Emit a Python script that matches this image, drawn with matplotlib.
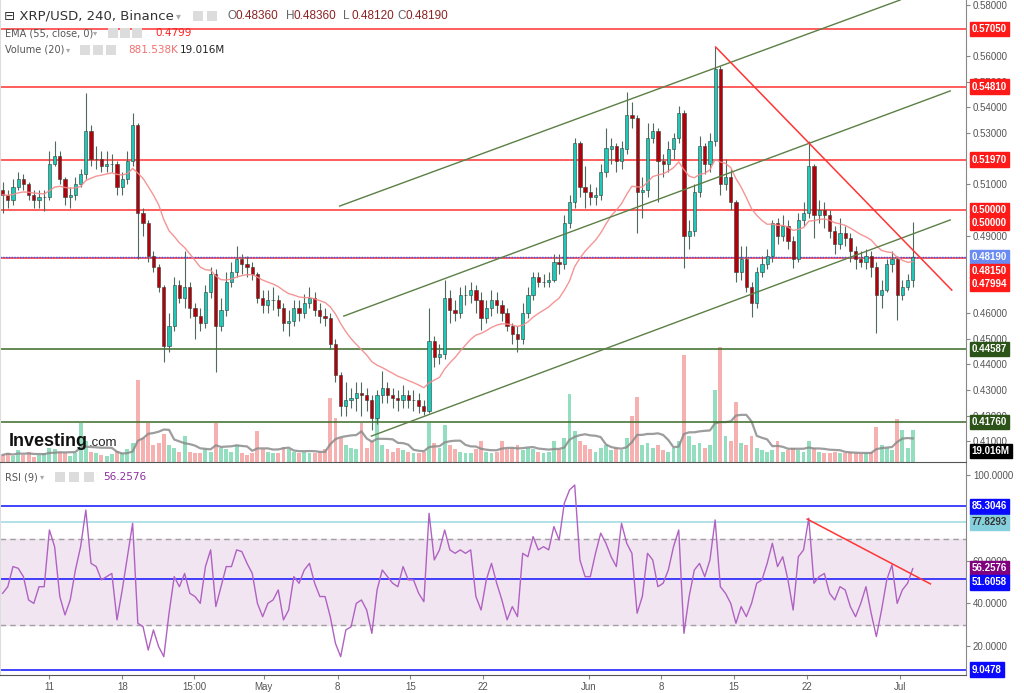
import numpy as np
import pandas as pd
import matplotlib
matplotlib.use("Agg")
import matplotlib.pyplot as plt
from matplotlib.patches import Rectangle

# =========================
# DADOS (XRP/USD, velas de 12h, x10000)
# =========================
close = [
    5060, 5040, 5090, 5120, 5100, 5060, 5040, 5050, 5050, 5180,
    5210, 5120, 5050, 5060, 5100, 5140, 5310, 5200, 5200, 5170,
    5180, 5180, 5090, 5120, 5190, 5330, 4990, 4950, 4820, 4780,
    4700, 4470, 4550, 4710, 4660, 4700, 4620, 4590, 4560, 4680,
    4750, 4550, 4610, 4720, 4760, 4810, 4790, 4780, 4750, 4660,
    4630, 4650, 4650, 4620, 4560, 4570, 4620, 4600, 4640, 4660,
    4610, 4590, 4580, 4480, 4360, 4240, 4260, 4270, 4290, 4280,
    4260, 4190, 4280, 4310, 4280, 4270, 4260, 4280, 4260, 4260,
    4240, 4220, 4490, 4430, 4440, 4660, 4610, 4600, 4670, 4670,
    4690, 4650, 4580, 4620, 4650, 4630, 4600, 4550, 4520, 4500,
    4600, 4670, 4740, 4720, 4720, 4730, 4800, 4790, 4950, 5030,
    5260, 5090, 5070, 5050, 5060, 5150, 5240, 5250, 5190, 5240,
    5370, 5360, 5070, 5080, 5280, 5310, 5190, 5180, 5240, 5280,
    5380, 4900, 4920, 5070, 5250, 5180, 5270, 5550, 5100, 5130,
    5030, 4760, 4810, 4700, 4640, 4760, 4790, 4820, 4950, 4900,
    4940, 4880, 4810, 4960, 4990, 5170, 4980, 5000, 4980, 4920,
    4870, 4910, 4890, 4840, 4810, 4800, 4820, 4780, 4670, 4690,
    4790, 4810, 4670, 4700, 4730, 4819]
first_open = 5080

high = [
    5110, 5080, 5120, 5150, 5140, 5110, 5080, 5080, 5080, 5230,
    5270, 5230, 5130, 5090, 5130, 5160, 5456, 5330, 5250, 5230,
    5230, 5220, 5190, 5150, 5230, 5380, 5340, 5010, 4960, 4840,
    4790, 4710, 4600, 4740, 4730, 4840, 4720, 4640, 4620, 4710,
    4780, 4770, 4660, 4760, 4800, 4860, 4830, 4820, 4800, 4760,
    4690, 4690, 4700, 4670, 4640, 4610, 4650, 4650, 4675, 4700,
    4680, 4640, 4620, 4600, 4500, 4370, 4330, 4310, 4330, 4330,
    4310, 4280, 4300, 4375, 4330, 4310, 4300, 4320, 4300, 4300,
    4290, 4260, 4620, 4510, 4480, 4730, 4690, 4650, 4700, 4710,
    4720, 4710, 4680, 4650, 4690, 4680, 4650, 4620, 4560, 4550,
    4640, 4700, 4760, 4760, 4750, 4760, 4830, 4830, 4980, 5060,
    5280, 5270, 5170, 5100, 5090, 5180, 5320, 5280, 5260, 5270,
    5460, 5420, 5370, 5130, 5340, 5340, 5320, 5220, 5270, 5300,
    5405, 5390, 4960, 5100, 5290, 5260, 5300, 5635, 5560, 5200,
    5160, 5040, 4860, 4860, 4720, 4780, 4820, 4850, 4960, 4970,
    4980, 4960, 4900, 4990, 5030, 5270, 5180, 5040, 5030, 5000,
    4940, 4970, 4940, 4910, 4860, 4840, 4850, 4840, 4800, 4730,
    4810, 4840, 4820, 4730, 4750, 4955]

low = [
    4990, 5010, 5020, 5080, 5080, 5040, 5010, 5010, 4995, 5040,
    5170, 5100, 5020, 5010, 5040, 5090, 5120, 5170, 5160, 5150,
    5150, 5150, 5060, 5060, 5100, 5170, 4810, 4900, 4800, 4760,
    4680, 4410, 4450, 4530, 4640, 4620, 4580, 4500, 4530, 4540,
    4660, 4370, 4530, 4590, 4700, 4740, 4750, 4740, 4730, 4640,
    4600, 4600, 4610, 4590, 4530, 4510, 4550, 4570, 4580, 4620,
    4590, 4560, 4550, 4460, 4330, 4200, 4200, 4230, 4220, 4200,
    4220, 4145, 4170, 4250, 4250, 4230, 4220, 4230, 4230, 4220,
    4210, 4205, 4210, 4390, 4400, 4420, 4560, 4570, 4580, 4630,
    4640, 4600, 4535, 4560, 4590, 4600, 4570, 4530, 4480, 4450,
    4480, 4580, 4650, 4700, 4700, 4700, 4720, 4750, 4770, 4930,
    5010, 5050, 5010, 5020, 5020, 5040, 5130, 5180, 5150, 5160,
    5220, 5320, 4910, 4970, 5050, 5260, 5030, 5130, 5150, 5200,
    5260, 4775, 4850, 4900, 5050, 5140, 5150, 5250, 5060, 5080,
    5000, 4720, 4730, 4680, 4584, 4620, 4740, 4770, 4800, 4870,
    4880, 4850, 4775, 4800, 4940, 4970, 4890, 4950, 4930, 4890,
    4830, 4850, 4860, 4800, 4770, 4780, 4770, 4740, 4522, 4620,
    4680, 4760, 4573, 4650, 4690, 4700]

volume_m = [
    15, 20, 12, 25, 15, 22, 10, 14, 18, 30,
    28, 22, 20, 12, 18, 82, 45, 22, 18, 14,
    12, 16, 24, 20, 28, 40, 173, 50, 82, 35,
    40, 60, 35, 30, 22, 55, 22, 18, 20, 28,
    22, 82, 30, 28, 22, 35, 18, 15, 18, 65,
    28, 22, 18, 20, 32, 28, 22, 18, 22, 20,
    18, 22, 28, 135, 93, 50, 35, 30, 28, 82,
    30, 45, 93, 35, 28, 22, 30, 26, 22, 18,
    20, 22, 82, 40, 30, 78, 35, 28, 22, 20,
    18, 28, 44, 22, 20, 22, 44, 28, 30, 35,
    26, 30, 28, 22, 20, 22, 44, 28, 50, 143,
    65, 45, 35, 28, 22, 30, 35, 26, 30, 26,
    50, 97, 137, 35, 40, 30, 35, 26, 22, 30,
    45, 226, 55, 35, 40, 30, 35, 152, 243, 55,
    45, 127, 40, 35, 55, 30, 26, 22, 26, 44,
    22, 26, 30, 26, 22, 44, 30, 22, 20, 18,
    22, 18, 20, 22, 18, 16, 18, 22, 74, 35,
    30, 26, 91, 68, 30, 68]

rsi = [
    44.7, 47.8, 57.2, 56.4, 52.5, 41.6, 40.0, 47.8, 47.8, 74.3,
    66.5, 43.2, 34.6, 41.6, 55.6, 66.5, 83.6, 58.7, 57.2, 51.0,
    52.5, 54.0, 32.3, 46.3, 61.8, 77.4, 30.7, 29.1, 18.2, 27.6,
    19.8, 15.1, 35.4, 52.5, 47.8, 54.0, 44.7, 43.2, 40.0, 57.2,
    65.0, 38.5, 47.8, 57.2, 57.2, 65.0, 64.2, 58.7, 54.0, 40.0,
    33.8, 40.0, 41.6, 46.3, 32.3, 36.9, 52.5, 49.4, 55.6, 58.7,
    49.4, 43.2, 43.2, 33.8, 21.3, 15.1, 27.6, 29.1, 40.0, 41.6,
    36.9, 26.0, 46.3, 55.6, 52.5, 49.4, 47.8, 57.2, 51.0, 51.0,
    44.7, 40.8, 82.1, 60.3, 65.0, 74.3, 65.0, 63.4, 65.0, 63.4,
    65.0, 43.2, 36.9, 51.0, 58.7, 49.4, 41.6, 32.3, 38.5, 33.8,
    63.4, 61.8, 71.2, 65.0, 66.5, 65.0, 75.9, 69.6, 86.8, 93.0,
    95.3, 60.3, 52.5, 52.5, 63.4, 72.8, 68.1, 61.8, 57.2, 77.4,
    68.1, 63.4, 35.4, 43.2, 63.4, 60.3, 47.8, 49.4, 55.6, 66.5,
    74.3, 26.0, 43.2, 55.6, 58.7, 52.5, 60.3, 79.0, 47.8, 44.7,
    40.0, 30.7, 38.5, 33.8, 40.0, 49.4, 51.0, 58.7, 68.1, 57.2,
    61.8, 51.0, 36.9, 61.8, 65.0, 79.8, 49.4, 52.5, 54.0, 44.7,
    41.6, 47.8, 46.3, 38.5, 33.8, 40.0, 47.8, 35.4, 24.5, 36.9,
    51.0, 58.0, 40.0, 46.3, 49.4, 56.2576]

# niveis e linhas desenhadas no grafico
resistances = [0.57050, 0.54810, 0.51970, 0.50000]
supports = [0.44587, 0.41760]
last_price = 0.48190
level_red = 0.48150
channel_top = [(64.8, 0.5016), (172.6, 0.5818)]
channel_mid = [(65.6, 0.4588), (182.2, 0.5464)]
channel_bot = [(70.9, 0.4121), (182.2, 0.4962)]
down_trend = [(137.1, 0.5635), (182.5, 0.4689)]
rsi_trend = [(154.7, 79.4), (178.4, 49.1)]
rsi_blue = [85.3046, 51.6058, 9.0478]
rsi_cyan = 77.8293

# eixos (so os rotulos que nao ficam tapados pelas etiquetas)
price_ticks = [0.41, 0.42, 0.43, 0.44, 0.45, 0.46, 0.49, 0.51, 0.53, 0.54, 0.55, 0.56, 0.58]
rsi_ticks = [20, 40, 60, 100]
tick_pos = [9.0, 23.0, 36.8, 50.2, 64.4, 78.4, 92.4, 112.7, 126.6, 140.6, 154.6, 172.6]
tick_lab = ["11", "18", "15:00", "May", "8", "15", "22", "Jun", "8", "15", "22", "Jul"]

# -------------------------
# PREPARAR
# -------------------------
W, H = 1024, 693
c = np.array(close) / 1e4
o = np.r_[first_open, close[:-1]] / 1e4
hi = np.maximum(np.array(high) / 1e4, np.maximum(o, c))
lo = np.minimum(np.array(low) / 1e4, np.minimum(o, c))
x = np.arange(len(c))
up = c >= o
ema = pd.Series(c).ewm(span=18, adjust=False).mean()
vol = np.array(volume_m, dtype=float)
vol_ma = pd.Series(vol).rolling(7, min_periods=1).mean()

XMAX = 966 / 5.215
GREY = "#555555"
SANS = "Liberation Sans"

fig = plt.figure(figsize=(W / 100, H / 100), dpi=100)
fig.patch.set_facecolor("white")


def fpos(px, py):
    return px / W, 1 - py / H


def ftext(px, py, s, **kw):
    kw.setdefault("va", "center")
    fig.text(*fpos(px, py), s, **kw)


def icon(px, py, w=10, h=10):
    fig.patches.append(Rectangle(fpos(px, py + h), w / W, h / H,
                                 transform=fig.transFigure, fc="#dcdcdc", ec="none"))


# -------------------------
# PAINEL DE PRECO
# -------------------------
ax = fig.add_axes([0, 1 - 462 / H, 966 / W, 462 / H])
axv = ax.twinx()
ax.set_zorder(axv.get_zorder() + 1)
ax.patch.set_visible(False)

vcol = np.where(up, "#7fd9b3", "#f5a3a3")
axv.bar(x, vol, width=0.75, color=vcol, alpha=0.85)
axv.plot(x, vol_ma, color="#8c8c8c", lw=1.6, alpha=0.85)
axv.set_ylim(0, 245 * 462 / 116)
axv.set_yticks([])
axv.set_xlim(-0.5, XMAX)
for s in axv.spines.values():
    s.set_visible(False)

ax.vlines(x, lo, hi, color="#4f6a5c", lw=0.8, zorder=3)
ax.bar(x, c - o, bottom=o, width=0.62, color=np.where(up, "#1fc9b9", "#b5000c"),
       edgecolor="#2f3f35", linewidth=0.4, zorder=4)
ax.plot(x, ema, color="#f48a8a", lw=1.0, alpha=0.9, zorder=5)

for lv in resistances:
    ax.axhline(lv, color="#ff3030", lw=1.1, zorder=2)
for lv in supports:
    ax.axhline(lv, color="#3b6a24", lw=1.1, zorder=2)
ax.axhline(level_red, color="#ff3030", lw=1.1, zorder=2)
ax.axhline(last_price, color="#3050ff", lw=1.0, ls=(0, (1, 1)), zorder=2)

for seg in (channel_top, channel_mid, channel_bot):
    (x0, y0), (x1, y1) = seg
    ax.plot([x0, x1], [y0, y1], color="#5b7f45", lw=1.0, zorder=6)
(x0, y0), (x1, y1) = down_trend
ax.plot([x0, x1], [y0, y1], color="#ff3535", lw=1.1, zorder=6)

ax.set_xlim(-0.5, XMAX)
ax.set_ylim(0.40202, 0.58178)
ax.set_xticks([])
ax.yaxis.tick_right()
ax.set_yticks(price_ticks)
ax.set_yticklabels([f"{v:.5f}" for v in price_ticks])
ax.tick_params(axis="y", length=3, color="#888888", labelsize=7, labelcolor=GREY, pad=2)
for lab in ax.get_yticklabels():
    lab.set_family(SANS)
ax.spines["top"].set_visible(False)
ax.spines["left"].set_color("#dddddd")
ax.spines["right"].set_color("#888888")
ax.spines["bottom"].set_color("#555555")

yt = ax.get_yaxis_transform()


def tag(a, tr, y, s, fc, tc="white"):
    a.text(1.006, y, s, transform=tr, va="center", ha="left", fontsize=7,
           family=SANS, fontweight="bold", color=tc, zorder=20, clip_on=False,
           bbox=dict(boxstyle="square,pad=0.22", fc=fc, ec=fc))


tag(ax, yt, 0.57050, "0.57050", "#ff1a1a")
tag(ax, yt, 0.54810, "0.54810", "#ff1a1a")
tag(ax, yt, 0.51970, "0.51970", "#ff1a1a")
tag(ax, yt, 0.50000, "0.50000", "#ff1a1a")
tag(ax, yt, 0.49500, "0.50000", "#ff1a1a")
tag(ax, yt, 0.48190, "0.48190", "#6a8cf2")
tag(ax, yt, 0.47630, "0.48150", "#ff1a1a")
tag(ax, yt, 0.47130, "0.47994", "#ff1a1a")
tag(ax, yt, 0.44587, "0.44587", "#2d5418")
tag(ax, yt, 0.41760, "0.41760", "#2d5418")
tag(ax, yt, 0.40630, "19.016M", "#000000")

# -------------------------
# PAINEL RSI
# -------------------------
ar = fig.add_axes([0, 1 - 675 / H, 966 / W, (675 - 463) / H])
ar.axhspan(30, 70, color="#f1e5f1", zorder=0)
ar.axhline(70, color="#a0a0a0", lw=1, ls=(0, (4, 3)))
ar.axhline(30, color="#a0a0a0", lw=1, ls=(0, (4, 3)))
for lv in rsi_blue:
    ar.axhline(lv, color="#1010ff", lw=1.1)
ar.axhline(rsi_cyan, color="#a6dbe3", lw=1.2)
ar.plot(x, rsi, color="#b062c2", lw=1.0, zorder=4)
(x0, y0), (x1, y1) = rsi_trend
ar.plot([x0, x1], [y0, y1], color="#ff3535", lw=1.1, zorder=5)

ar.set_xlim(-0.5, XMAX)
ar.set_ylim(6.54, 105.6)
ar.yaxis.tick_right()
ar.set_yticks(rsi_ticks)
ar.set_yticklabels([f"{v:.4f}" for v in rsi_ticks])
ar.tick_params(axis="y", length=3, color="#888888", labelsize=7, labelcolor=GREY, pad=2)
ar.set_xticks(tick_pos)
ar.set_xticklabels(tick_lab)
ar.tick_params(axis="x", length=3, color="#888888", labelsize=7, labelcolor=GREY, pad=2)
for lab in ar.get_yticklabels() + ar.get_xticklabels():
    lab.set_family(SANS)
ar.spines["top"].set_visible(False)
ar.spines["left"].set_color("#dddddd")
ar.spines["right"].set_color("#888888")
ar.spines["bottom"].set_color("#555555")

rt = ar.get_yaxis_transform()
tag(ar, rt, 85.3046, "85.3046", "#0a0aff")
tag(ar, rt, 77.8293, "77.8293", "#86cfdc", tc="#333333")
tag(ar, rt, 56.7, "56.2576", "#800080")
tag(ar, rt, 49.8, "51.6058", "#0a0aff")
tag(ar, rt, 9.0478, "9.0478", "#0a0aff")

# -------------------------
# CABECALHOS
# -------------------------
ftext(4, 16, "\u229f XRP/USD, 240, Binance", fontsize=9.5, color="#333333")
ftext(176, 16, "\u25be", fontsize=7, color="#aaaaaa")
icon(193, 11)
icon(207, 11)
for px, letter, val in [(227, "O", "0.48360"), (286, "H", "0.48360"),
                        (343, "L", "0.48120"), (397, "C", "0.48190")]:
    ftext(px, 16, letter, fontsize=8.5, color="#666666", family=SANS)
    ftext(px + 8, 16, val, fontsize=8.5, color="#8b2323", family=SANS)

ftext(5, 33, "EMA (55, close, 0)", fontsize=7, color=GREY)
ftext(93, 33, "\u25be", fontsize=6, color="#aaaaaa")
for px in (108, 120, 132):
    icon(px, 28)
ftext(155, 33, "0.4799", fontsize=7.5, color="#ff2020")

ftext(5, 50, "Volume (20)", fontsize=7, color=GREY)
ftext(66, 50, "\u25be", fontsize=6, color="#aaaaaa")
for px in (80, 93, 106):
    icon(px, 45)
ftext(128, 50, "881.538K", fontsize=7.5, color="#f07070")
ftext(180, 50, "19.016M", fontsize=7.5, color="#222222")

ftext(5, 477, "RSI (9)", fontsize=7, color=GREY)
ftext(40, 477, "\u25be", fontsize=6, color="#aaaaaa")
for px in (55, 69, 84):
    icon(px, 472)
ftext(103, 477, "56.2576", fontsize=7.5, color="#8e2e9e")

ftext(9, 441, "Investing", fontsize=13, fontweight="bold", color="#111111", family=SANS)
ftext(89, 443, ".com", fontsize=9.5, color="#222222", family=SANS)

plt.savefig("out.png", dpi=100, facecolor="white")
